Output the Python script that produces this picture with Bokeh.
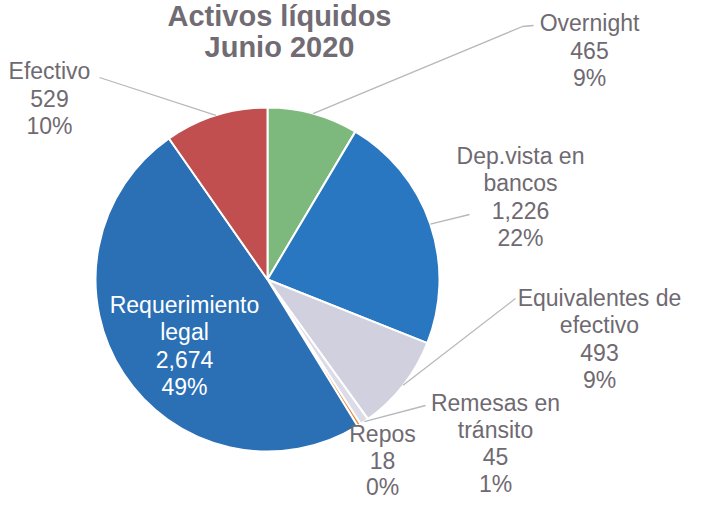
import math
from bokeh.plotting import figure
from bokeh.models import Range1d, ColumnDataSource
from bokeh.core.properties import value
from bokeh.embed import file_html
from bokeh.resources import INLINE

# ---- data ----
title_lines = ["Activos líquidos", "Junio 2020"]
categories = ["Overnight", "Dep.vista en bancos", "Equivalentes de efectivo",
              "Remesas en tránsito", "Repos", "Requerimiento legal", "Efectivo"]
label_lines = [["Overnight"], ["Dep.vista en", "bancos"], ["Equivalentes de", "efectivo"],
               ["Remesas en", "tránsito"], ["Repos"], ["Requerimiento", "legal"], ["Efectivo"]]
amounts = [465, 1226, 493, 45, 18, 2674, 529]
colors = ["#7db87c", "#2a77c1", "#d0d0de", "#dcdce8", "#e8873a", "#2b6fb5", "#c24f4f"]

# ---- layout (image pixel coordinates) ----
W, H = 685, 499
def X(px): return px - 8
def Y(py): return 507 - py

CX, CY, R = X(275), Y(287), 172
label_pos = [(597, 30), (528, 163), (607, 305), (503, 410), (390, 441), (192, 312), (57, 78)]
line_h = [27.5, 27.5, 27.5, 27, 26.5, 27.5, 27.5]
leader_anchor = [[(541, 33), (530, 34)], [(477, 222)], [(523, 306)], [(433, 413)], None, None, [(107, 85)]]
label_colors = ["#6f6a72"] * 5 + ["white"] + ["#6f6a72"]
FONT = "Liberation Sans"

p = figure(width=W, height=H, x_range=Range1d(0, W), y_range=Range1d(0, H),
           output_backend="svg", toolbar_location=None, min_border=0)
p.axis.visible = False
p.grid.visible = False
p.outline_line_color = None

total = sum(amounts)
starts, ends, mids = [], [], []
cum = 0.0
for a in amounts:
    s = math.pi / 2 - 2 * math.pi * (cum + a) / total
    e = math.pi / 2 - 2 * math.pi * cum / total
    starts.append(s); ends.append(e); mids.append((s + e) / 2)
    cum += a

src = ColumnDataSource(dict(start=starts, end=ends, color=colors, cat=categories))
p.wedge(x=CX, y=CY, radius=R, start_angle="start", end_angle="end", fill_color="color",
        line_color="white", line_width=2, source=src)

# leader lines
for i, anchors in enumerate(leader_anchor):
    if not anchors:
        continue
    xs = [X(a[0]) for a in anchors] + [CX + R * math.cos(mids[i])]
    ys = [Y(a[1]) for a in anchors] + [CY + R * math.sin(mids[i])]
    p.line(xs, ys, line_color="#b8b8bc", line_width=1.3)

# labels
tx, ty, tt, tc = [], [], [], []
for i, lines in enumerate(label_lines):
    pct = round(100 * amounts[i] / total)
    full = lines + [f"{amounts[i]:,}", f"{pct}%"]
    lx, ly = label_pos[i]
    for j, t in enumerate(full):
        tx.append(X(lx)); ty.append(Y(ly + j * line_h[i])); tt.append(t); tc.append(label_colors[i])
p.text(x=tx, y=ty, text=tt, text_color=tc, text_font=value(FONT), text_font_size="23px",
       text_align="center", text_baseline="middle")

# title
p.text(x=[X(287), X(287)], y=[Y(23), Y(54)], text=title_lines, text_color="#716b73",
       text_font=value(FONT), text_font_size="29px", text_font_style="bold",
       text_align="center", text_baseline="middle")

open("out.html", "w").write(file_html(p, INLINE))
